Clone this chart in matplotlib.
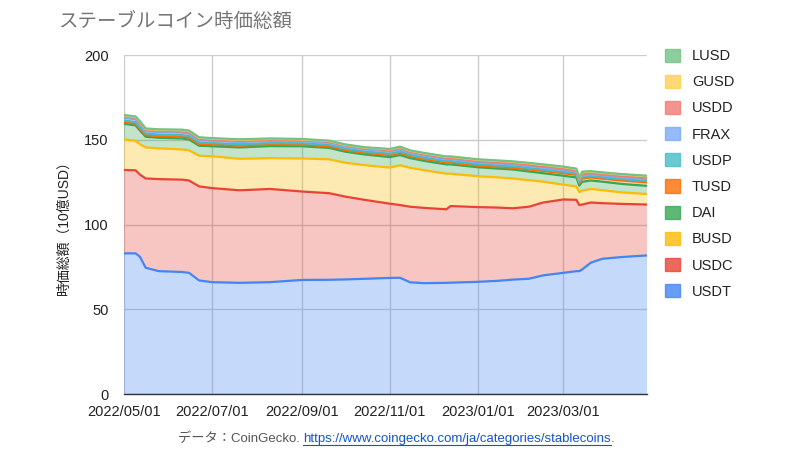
import matplotlib
matplotlib.use("Agg")
import matplotlib.pyplot as plt
import matplotlib.dates as mdates
from matplotlib.patches import Patch
from matplotlib.lines import Line2D
import numpy as np
import pandas as pd

plt.rcParams['font.family'] = ['Liberation Sans', 'Noto Sans CJK JP', 'DejaVu Sans']

dates = pd.to_datetime([
    "2022-05-01", "2022-05-09", "2022-05-12", "2022-05-16", "2022-05-25", "2022-06-10",
    "2022-06-15", "2022-06-22", "2022-07-01", "2022-07-20", "2022-08-10", "2022-09-01",
    "2022-09-20", "2022-10-01", "2022-10-15", "2022-11-01", "2022-11-08", "2022-11-15",
    "2022-11-25", "2022-12-10", "2022-12-13", "2023-01-01", "2023-01-15", "2023-01-25",
    "2023-02-05", "2023-02-15", "2023-03-01", "2023-03-10", "2023-03-12", "2023-03-14",
    "2023-03-20", "2023-03-28", "2023-04-10", "2023-04-28"])

usdt = [83.0, 83.0, 81.0, 74.5, 72.5, 72.0, 71.5, 67.0, 66.0, 65.6, 66.0, 67.3,
        67.4, 67.6, 68.0, 68.5, 68.6, 65.9, 65.4, 65.6, 65.7, 66.2, 66.8, 67.5,
        68.0, 70.0, 71.5, 72.5, 72.5, 73.5, 77.5, 79.8, 80.8, 81.8]
usdc = [49.2, 49.0, 48.5, 52.7, 54.3, 54.5, 54.5, 55.5, 55.5, 54.6, 55.0, 52.2,
        51.1, 48.9, 46.5, 43.8, 42.9, 44.6, 44.4, 43.4, 45.2, 44.1, 43.2, 42.1,
        42.5, 43.0, 43.3, 42.1, 39.0, 38.3, 35.5, 32.8, 31.4, 30.0]
busd = [18.0, 17.5, 18.0, 18.3, 18.2, 17.8, 17.8, 18.1, 18.8, 18.6, 18.2, 19.5,
        20.0, 20.0, 20.5, 21.3, 23.5, 23.0, 22.2, 21.0, 19.1, 18.2, 17.8, 17.6,
        15.7, 12.3, 8.7, 7.9, 7.7, 8.2, 8.0, 7.7, 6.8, 6.2]
dai = [9.3, 9.0, 8.0, 6.3, 6.2, 6.5, 6.4, 5.9, 5.9, 6.7, 7.1, 7.2,
       6.7, 6.5, 6.3, 6.2, 6.0, 5.7, 5.5, 5.5, 5.5, 5.3, 5.2, 5.3,
       5.1, 5.0, 5.3, 5.3, 3.8, 5.2, 5.0, 5.0, 5.0, 4.8]
tusd = [1.0, 1.0, 1.1, 1.0, 1.0, 1.05, 1.1, 1.05, 1.0, 1.0, 0.95, 0.95,
        0.95, 0.95, 0.95, 1.2, 1.3, 1.1, 1.1, 1.1, 1.1, 0.95, 1.0, 1.0,
        1.2, 1.3, 1.5, 1.5, 1.3, 1.9, 1.8, 1.8, 2.0, 2.1]
usdp = [0.95, 0.95, 0.95, 0.9, 0.9, 0.95, 0.95, 0.9, 0.9, 0.9, 0.85, 0.85,
        0.85, 0.85, 0.85, 0.85, 0.85, 0.8, 0.85, 0.85, 0.85, 0.85, 0.85, 0.85,
        0.85, 0.85, 0.85, 0.8, 0.7, 0.85, 0.8, 0.8, 0.85, 0.85]
frax = [1.55, 1.55, 1.6, 1.35, 1.4, 1.45, 1.45, 1.35, 1.3, 1.3, 1.25, 1.2,
        1.2, 1.2, 1.2, 1.25, 1.25, 1.2, 1.2, 1.2, 1.2, 1.15, 1.15, 1.15,
        1.15, 1.15, 1.1, 1.05, 0.9, 1.1, 1.05, 1.05, 1.05, 1.05]
usdd = [0.75, 0.9, 0.9, 0.75, 0.75, 0.7, 0.75, 0.7, 0.7, 0.7, 0.7, 0.65,
        0.65, 0.65, 0.65, 0.7, 0.75, 0.7, 0.7, 0.7, 0.7, 0.72, 0.72, 0.72,
        0.72, 0.72, 0.72, 0.72, 0.65, 0.75, 0.72, 0.72, 0.72, 0.75]
gusd = [0.5, 0.55, 0.6, 0.55, 0.6, 0.7, 0.7, 0.7, 0.6, 0.6, 0.5, 0.4,
        0.4, 0.4, 0.4, 0.55, 0.6, 0.55, 0.6, 0.6, 0.6, 0.75, 0.8, 0.8,
        0.9, 0.9, 0.95, 0.85, 0.7, 1.1, 0.85, 0.85, 0.9, 0.95]
lusd = [0.35, 0.35, 0.35, 0.35, 0.35, 0.35, 0.35, 0.3, 0.3, 0.3, 0.25, 0.25,
        0.25, 0.25, 0.25, 0.25, 0.25, 0.25, 0.25, 0.25, 0.25, 0.28, 0.28, 0.28,
        0.28, 0.28, 0.28, 0.28, 0.25, 0.3, 0.28, 0.28, 0.28, 0.3]

names = ["USDT", "USDC", "BUSD", "DAI", "TUSD", "USDP", "FRAX", "USDD", "GUSD", "LUSD"]
series = [usdt, usdc, busd, dai, tusd, usdp, frax, usdd, gusd, lusd]
colors = ["#4285F4", "#EA4335", "#FBBC04", "#34A853", "#FF6D01",
          "#46BDC6", "#7BAAF7", "#F07B72", "#FCD04F", "#71C287"]

xticks = pd.to_datetime(["2022-05-01", "2022-07-01", "2022-09-01", "2022-11-01",
                         "2023-01-01", "2023-03-01"])
yticks = [0, 50, 100, 150, 200]

fig = plt.figure(figsize=(8.0, 4.59), dpi=100)
ax = fig.add_axes([0.155, 0.1416, 0.654, 0.7384])

data = np.array(series, dtype=float)
ax.stackplot(dates, data, colors=colors, alpha=0.3, linewidth=0, zorder=2)
cum = np.cumsum(data, axis=0)
for i in range(len(names)):
    ax.plot(dates, cum[i], color=colors[i], lw=1.6, zorder=3 + i * 0.01,
            solid_joinstyle='round')

ax.set_xlim(dates[0], dates[-1])
ax.set_ylim(0, 200)
ax.set_yticks(yticks)
ax.set_xticks(xticks)
ax.xaxis.set_major_formatter(mdates.DateFormatter("%Y/%m/%d"))
ax.grid(True, color="#cccccc", lw=1.0, zorder=0)
ax.set_axisbelow(True)
for s in ["top", "right", "left"]:
    ax.spines[s].set_visible(False)
ax.spines["bottom"].set_color("#333333")
ax.spines["bottom"].set_linewidth(1.0)
ax.spines["bottom"].set_zorder(5)
ax.tick_params(axis="both", length=0, labelsize=10.5, colors="#222222")
ax.tick_params(axis="x", pad=8)
ax.tick_params(axis="y", pad=11)
ax.set_ylabel("時価総額（10億USD）", fontsize=10, color="#222222", labelpad=10)

fig.text(0.072, 0.952, "ステーブルコイン時価総額", fontsize=14, color="#757575",
         ha="left", va="center")

handles = [Patch(facecolor=c, edgecolor=c, alpha=0.8) for c in colors]
leg = fig.legend(handles[::-1], names[::-1], loc="upper left",
                 bbox_to_anchor=(0.824, 0.907), frameon=False, fontsize=10.5,
                 handlelength=1.0, handleheight=1.0, labelspacing=0.8,
                 handletextpad=0.85, borderaxespad=0)
for t in leg.get_texts():
    t.set_color("#222222")

fs = 9.5
ybase = 0.036
t1 = fig.text(0.222, ybase, "データ：CoinGecko. ", fontsize=fs, color="#555555",
              ha="left", va="baseline")
fig.canvas.draw()
r = fig.canvas.get_renderer()
bb = t1.get_window_extent(renderer=r)
x2 = bb.x1 / fig.bbox.width
t2 = fig.text(x2, ybase, "https://www.coingecko.com/ja/categories/stablecoins",
              fontsize=fs, color="#1155CC", ha="left", va="baseline")
fig.canvas.draw()
bb2 = t2.get_window_extent(renderer=r)
x3 = bb2.x1 / fig.bbox.width
fig.text(x3, ybase, ".", fontsize=fs, color="#555555", ha="left", va="baseline")
uy = ybase - 2.5 / fig.bbox.height
fig.add_artist(Line2D([x2, x3], [uy, uy], color="#1155CC", lw=0.8,
                      transform=fig.transFigure))

fig.savefig("out.png", dpi=100)
